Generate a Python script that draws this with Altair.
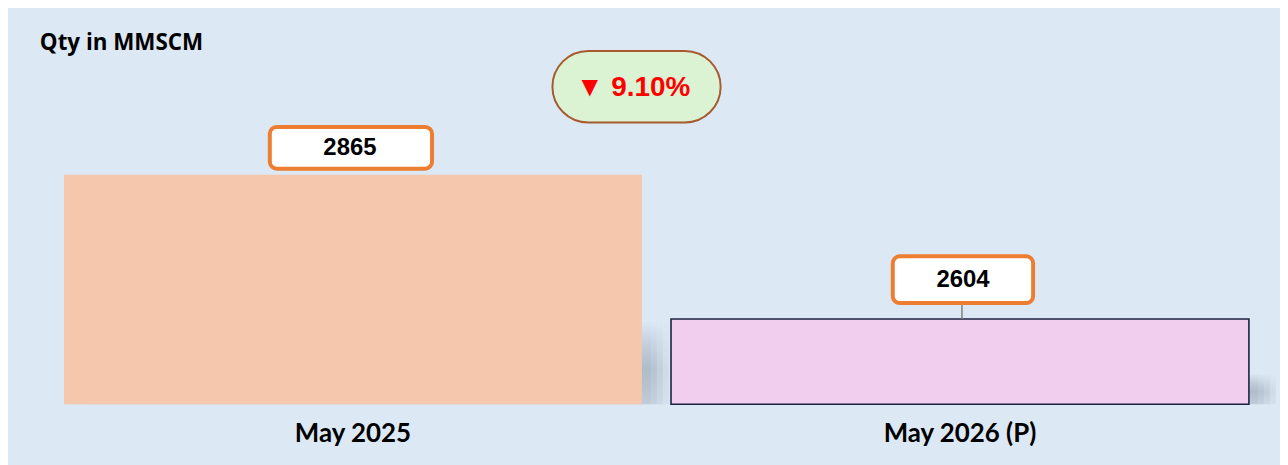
import altair as alt
import pandas as pd

# ---- data ----
categories = ["May 2025", "May 2026 (P)"]
values = [2865, 2604]
bar_colors = ["#F5C7AD", "#F1CDEE"]
change_label = "▼ 9.10%"
title_text = "Qty in MMSCM"
axis_min, axis_max = 2450, 3150

df = pd.DataFrame({"cat": categories, "value": values, "label": [str(v) for v in values]})

BG = "#DCE9F5"
ORANGE = "#ED7D31"

x_enc = alt.X("cat:N", sort=categories,
              scale=alt.Scale(paddingInner=0.048, paddingOuter=0.043),
              axis=alt.Axis(title=None, labelAngle=0, ticks=False, domain=False, grid=False,
                            labelFont="Lato", labelFontSize=26, labelFontWeight="bold",
                            labelColor="#000000", labelPadding=16))
y_scale = alt.Scale(domain=[axis_min, axis_max], zero=False, nice=False)
y_enc = alt.Y("value:Q", scale=y_scale, axis=None)
base_y2 = alt.Y2(datum=axis_min)

base = alt.Chart(df)


def shadow_layer(offset, alpha):
    grad = {"gradient": "linear", "x1": 0, "y1": 0, "x2": 0, "y2": 1,
            "stops": [{"offset": 0, "color": "rgba(150,163,178,0)"},
                      {"offset": 0.64, "color": "rgba(150,163,178,0)"},
                      {"offset": 0.85, "color": f"rgba(150,163,178,{alpha})"},
                      {"offset": 1, "color": f"rgba(150,163,178,{alpha * 0.55:.3f})"}]}
    return base.mark_bar(xOffset=offset, fill=grad).encode(x=x_enc, y=y_enc, y2=base_y2)


shadows = [shadow_layer(o, a) for o, a in [(9, 0.22), (15, 0.24), (21, 0.24), (27, 0.2)]]

bars = base.mark_bar().encode(
    x=x_enc, y=y_enc, y2=base_y2,
    fill=alt.Fill("cat:N", scale=alt.Scale(domain=categories, range=bar_colors), legend=None),
    stroke=alt.Stroke("cat:N", scale=alt.Scale(domain=categories, range=["rgba(0,0,0,0)", "#1B2540"]), legend=None),
    strokeWidth=alt.value(1.6),
)

# label boxes
b1 = base.transform_filter(alt.datum.cat == categories[0])
b2 = base.transform_filter(alt.datum.cat == categories[1])

box1 = b1.mark_bar(width=163, xOffset=-2, yOffset=-48, y2Offset=-6, cornerRadius=7,
                   fill="white", stroke=ORANGE, strokeWidth=4).encode(
    x=x_enc, y=y_enc, y2=alt.Y2("value:Q"))
box2 = b2.mark_bar(width=141, xOffset=3, yOffset=-63, y2Offset=-16, cornerRadius=7,
                   fill="white", stroke=ORANGE, strokeWidth=4).encode(
    x=x_enc, y=y_enc, y2=alt.Y2("value:Q"))
leader = b2.mark_rule(color="#7F7F7F", strokeWidth=1.5, yOffset=-15, xOffset=2).encode(
    x=x_enc, y=y_enc, y2=alt.Y2("value:Q"))

txt_props = dict(font="Liberation Sans", fontSize=24, fontWeight="bold", color="#000000",
                 align="center", baseline="middle")
text1 = b1.mark_text(dy=-27, dx=-3, **txt_props).encode(x=x_enc, y=y_enc, text="label:N")
text2 = b2.mark_text(dy=-39, dx=3, **txt_props).encode(x=x_enc, y=y_enc, text="label:N")

one = alt.Data(values=[{"k": 1}])
pill = alt.Chart(one).mark_rect(cornerRadius=36, fill="#DBF2D3", stroke="#A65A2E", strokeWidth=2).encode(
    x=alt.value(517), x2=alt.value(686), y=alt.value(34), y2=alt.value(106))
pill_text = alt.Chart(one).mark_text(font="Liberation Sans", fontSize=28, fontWeight="bold",
                                     color="#FF0000", align="center", baseline="middle").encode(
    x=alt.value(598), y=alt.value(71), text=alt.value(change_label))
title = alt.Chart(one).mark_text(font="Open Sans", fontSize=22.5, fontWeight="bold", color="#000000",
                                 align="left", baseline="middle").encode(
    x=alt.value(2), y=alt.value(26), text=alt.value(title_text))

chart = alt.layer(*shadows, bars, leader, box1, box2, text1, text2, pill, pill_text, title).properties(
    width=1243, height=389, background=BG,
    padding={"left": 30, "top": 8, "right": 4, "bottom": 20},
).configure_view(stroke=None)

chart.save("out.html", embed_options={"renderer": "svg", "actions": False})
